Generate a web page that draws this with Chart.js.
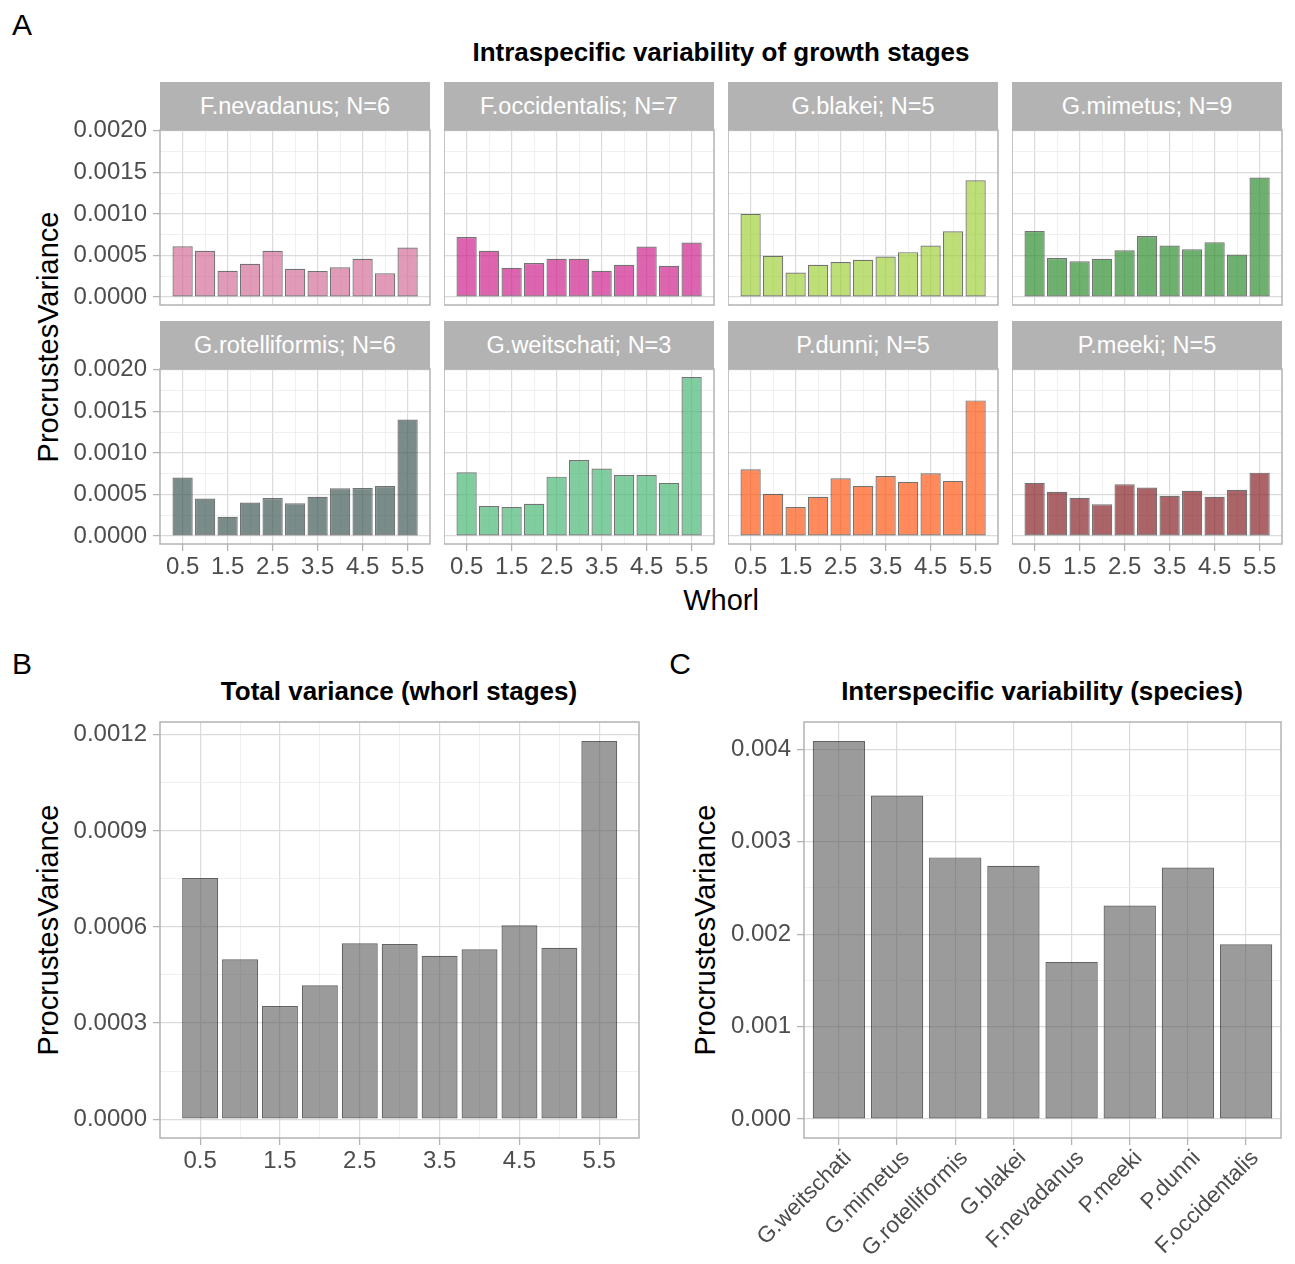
<!DOCTYPE html>
<html>
<head>
<meta charset="utf-8">
<script src="https://cdn.jsdelivr.net/npm/chart.js@4.4.1/dist/chart.umd.min.js"></script>
<style>
  body { margin: 0; background: #fff; }
  #fig { position: relative; width: 1295px; height: 1264px; overflow: hidden; background: #fff;
         font-family: 'Liberation Sans', Arial, sans-serif; }
  .t { position: absolute; white-space: nowrap; line-height: 1; transform: translate(-50%, -50%); }
  .strip { position: absolute; background: #B3B3B3; color: #fff; font-size: 23.5px;
           display: flex; align-items: center; justify-content: center; white-space: nowrap; }
</style>
</head>
<body>
<div id="fig"></div>
<script>
// whorl stages (x) for the facet panels and panel B
const whorls = [0.5, 1, 1.5, 2, 2.5, 3, 3.5, 4, 4.5, 5, 5.5];

// facet species, sample sizes
const species = ['F.nevadanus', 'F.occidentalis', 'G.blakei', 'G.mimetus',
                 'G.rotelliformis', 'G.weitschati', 'P.dunni', 'P.meeki'];
const sampleN = [6, 7, 5, 9, 6, 3, 5, 5];

// Procrustes variance per whorl stage
const fNevadanus     = [0.000611, 0.000556, 0.000317, 0.000400, 0.000556, 0.000341, 0.000313, 0.000357, 0.000460, 0.000286, 0.000595];
const fOccidentalis  = [0.000722, 0.000556, 0.000353, 0.000409, 0.000460, 0.000460, 0.000317, 0.000389, 0.000607, 0.000377, 0.000655];
const gBlakei        = [0.001000, 0.000496, 0.000294, 0.000389, 0.000421, 0.000448, 0.000488, 0.000540, 0.000619, 0.000790, 0.001405];
const gMimetus       = [0.000794, 0.000468, 0.000429, 0.000460, 0.000563, 0.000734, 0.000619, 0.000575, 0.000659, 0.000512, 0.001437];
const gRotelliformis = [0.000704, 0.000451, 0.000232, 0.000402, 0.000457, 0.000394, 0.000473, 0.000575, 0.000577, 0.000601, 0.001400];
const gWeitschati    = [0.000766, 0.000361, 0.000349, 0.000389, 0.000714, 0.000913, 0.000813, 0.000734, 0.000734, 0.000639, 0.001913];
const pDunni         = [0.000802, 0.000508, 0.000349, 0.000472, 0.000694, 0.000603, 0.000722, 0.000651, 0.000754, 0.000663, 0.001631];
const pMeeki         = [0.000639, 0.000532, 0.000460, 0.000381, 0.000623, 0.000583, 0.000484, 0.000544, 0.000472, 0.000556, 0.000762];
const facetValues = [fNevadanus, fOccidentalis, gBlakei, gMimetus, gRotelliformis, gWeitschati, pDunni, pMeeki];
const facetColors = ['rgba(212,112,155,0.7)', 'rgba(206,34,141,0.7)', 'rgba(162,208,62,0.7)', 'rgba(48,142,48,0.7)',
                     'rgba(65,91,88,0.7)', 'rgba(74,185,119,0.7)', 'rgba(255,88,22,0.7)', 'rgba(136,34,39,0.7)'];

// panel B: total variance per whorl stage
const totalVariance = [0.000753, 0.000499, 0.000353, 0.000418, 0.000549, 0.000547, 0.000510, 0.000530, 0.000605, 0.000535, 0.001181];

// panel C: interspecific variance per species
const speciesC = ['G.weitschati', 'G.mimetus', 'G.rotelliformis', 'G.blakei', 'F.nevadanus', 'P.meeki', 'P.dunni', 'F.occidentalis'];
const speciesVariance = [0.00409, 0.00350, 0.00283, 0.00274, 0.00170, 0.00231, 0.00272, 0.00189];

// tick lists
const facetYTicks = [0, 0.00025, 0.0005, 0.00075, 0.001, 0.00125, 0.0015, 0.00175, 0.002];
const bYTicks = [0, 0.00015, 0.0003, 0.00045, 0.0006, 0.00075, 0.0009, 0.00105, 0.0012];
const cYTicks = [0, 0.0005, 0.001, 0.0015, 0.002, 0.0025, 0.003, 0.0035, 0.004];
const cXTicks = [1, 2, 3, 4, 5, 6, 7, 8];

Chart.defaults.font.family = "'Liberation Sans', Arial, sans-serif";
Chart.defaults.color = '#4D4D4D';
Chart.defaults.animation = false;

const fig = document.getElementById('fig');

function txt(text, x, y, css) {
  const d = document.createElement('div');
  d.className = 't';
  d.textContent = text;
  d.style.left = x + 'px';
  d.style.top = y + 'px';
  if (css) d.style.cssText += css;
  fig.appendChild(d);
  return d;
}

const panelBorder = {
  id: 'panelBorder',
  afterDraw(chart) {
    const { ctx, chartArea: a } = chart;
    ctx.save();
    ctx.strokeStyle = '#B3B3B3';
    ctx.lineWidth = 1.5;
    ctx.strokeRect(a.left, a.top, a.right - a.left, a.bottom - a.top);
    ctx.restore();
  }
};

// one axis: custom tick list, major/minor grid lines, fixed size
function axis(spec) {
  const show = spec.show;
  return {
    type: 'linear',
    min: spec.min,
    max: spec.max,
    offset: false,
    afterBuildTicks: s => { s.ticks = spec.ticks.map((v, i) => ({ value: v, mj: spec.major(i) })); },
    afterFit: s => {
      if (s.isHorizontal()) s.height = spec.size; else s.width = spec.size;
      s.paddingLeft = s.paddingRight = s.paddingTop = s.paddingBottom = 0;
    },
    border: { display: false },
    grid: {
      offset: false,
      color: c => (c.tick && c.tick.mj ? '#DBDBDB' : '#ECECEC'),
      lineWidth: c => (c.tick && c.tick.mj ? 1.2 : 0.8),
      drawTicks: show,
      tickLength: 7,
      tickWidth: 1.3,
      tickColor: c => (c.tick && c.tick.mj ? '#B3B3B3' : 'rgba(0,0,0,0)')
    },
    ticks: {
      display: show,
      autoSkip: false,
      minRotation: spec.rot || 0,
      maxRotation: spec.rot || 0,
      labelOffset: spec.shift || 0,
      padding: spec.pad,
      color: '#4D4D4D',
      font: { size: spec.fs || 24 },
      callback: (v, i) => (spec.major(i) ? spec.fmt(v, i) : '')
    }
  };
}

function panel(p) {
  const padT = 16, padR = 4, padB = p.padB || 4;
  const W = p.axisW + p.w + padR;
  const H = padT + p.h + p.axisH + padB;
  const cv = document.createElement('canvas');
  cv.width = W; cv.height = H;
  cv.style.cssText = `position:absolute;left:${p.left - p.axisW}px;top:${p.top - padT}px;width:${W}px;height:${H}px`;
  fig.appendChild(cv);
  new Chart(cv, {
    type: 'bar',
    data: {
      datasets: [{
        data: p.xs.map((x, i) => ({ x, y: p.values[i] })),
        backgroundColor: p.color,
        borderColor: p.edge,
        borderWidth: 1.2,
        borderSkipped: false,
        categoryPercentage: 1,
        barPercentage: 0.9
      }]
    },
    options: {
      responsive: false,
      maintainAspectRatio: false,
      layout: { padding: { top: padT, right: padR, bottom: padB, left: 0 } },
      plugins: { legend: { display: false }, tooltip: { enabled: false } },
      scales: { x: p.x, y: p.y }
    },
    plugins: [panelBorder]
  });
}

// ---------- Panel A: facets ----------
txt('A', 22, 25, 'font-size:30px;color:#000;');
txt('Intraspecific variability of growth stages', 721, 52, 'font-size:26px;font-weight:bold;color:#000;');
txt('Whorl', 721, 600, 'font-size:29px;color:#000;');
txt('ProcrustesVariance', 48, 337, 'font-size:29px;color:#000;transform:translate(-50%,-50%) rotate(-90deg);');

const colLeft = [160, 444, 728, 1012];
const rowTop = [130, 369];
const facetW = 270, facetH = 175;

species.forEach((name, k) => {
  const col = k % 4, row = Math.floor(k / 4);
  const left = colLeft[col], top = rowTop[row];
  const st = document.createElement('div');
  st.className = 'strip';
  st.style.cssText += `left:${left}px;top:${top - 48}px;width:${facetW}px;height:48px;`;
  st.textContent = `${name}; N=${sampleN[k]}`;
  fig.appendChild(st);

  panel({
    left, top, w: facetW, h: facetH,
    axisW: col === 0 ? 100 : 0,
    axisH: row === 1 ? 40 : 0,
    xs: whorls, values: facetValues[k],
    color: facetColors[k], edge: 'rgba(40,40,40,0.65)',
    x: axis({ min: -0.0025, max: 5.9975, ticks: whorls, major: i => i % 2 === 0,
              fmt: v => v.toFixed(1), show: row === 1, size: row === 1 ? 40 : 0, pad: 2 }),
    y: axis({ min: -0.0000957, max: 0.0020087, ticks: facetYTicks, major: i => i % 2 === 0,
              fmt: v => v.toFixed(4), show: col === 0, size: col === 0 ? 100 : 0, pad: 6 })
  });
});

// ---------- Panel B ----------
txt('B', 22, 664, 'font-size:30px;color:#000;');
txt('Total variance (whorl stages)', 399, 691, 'font-size:26px;font-weight:bold;color:#000;');
txt('ProcrustesVariance', 48, 930, 'font-size:29px;color:#000;transform:translate(-50%,-50%) rotate(-90deg);');

panel({
  left: 160, top: 722, w: 479, h: 416, axisW: 100, axisH: 40,
  xs: whorls, values: totalVariance,
  color: 'rgba(89,89,89,0.6)', edge: 'rgba(45,45,45,0.75)',
  x: axis({ min: -0.0025, max: 5.9975, ticks: whorls, major: i => i % 2 === 0,
            fmt: v => v.toFixed(1), show: true, size: 40, pad: 2 }),
  y: axis({ min: -0.000059, max: 0.00124, ticks: bYTicks, major: i => i % 2 === 0,
            fmt: v => v.toFixed(4), show: true, size: 100, pad: 6 })
});

// ---------- Panel C ----------
txt('C', 680, 664, 'font-size:30px;color:#000;');
txt('Interspecific variability (species)', 1042, 691, 'font-size:26px;font-weight:bold;color:#000;');
txt('ProcrustesVariance', 705, 930, 'font-size:29px;color:#000;transform:translate(-50%,-50%) rotate(-90deg);');

panel({
  left: 804, top: 722, w: 477, h: 416, axisW: 110, axisH: 122, padB: 40,
  xs: cXTicks, values: speciesVariance,
  color: 'rgba(89,89,89,0.6)', edge: 'rgba(45,45,45,0.75)',
  x: axis({ min: 0.4, max: 8.6, ticks: cXTicks, major: () => true,
            fmt: (v, i) => speciesC[i], show: true, size: 122, pad: 0, rot: 45, shift: 9, fs: 22.5 }),
  y: axis({ min: -0.0002045, max: 0.0042945, ticks: cYTicks, major: i => i % 2 === 0,
            fmt: v => v.toFixed(3), show: true, size: 110, pad: 6 })
});
</script>
</body>
</html>
